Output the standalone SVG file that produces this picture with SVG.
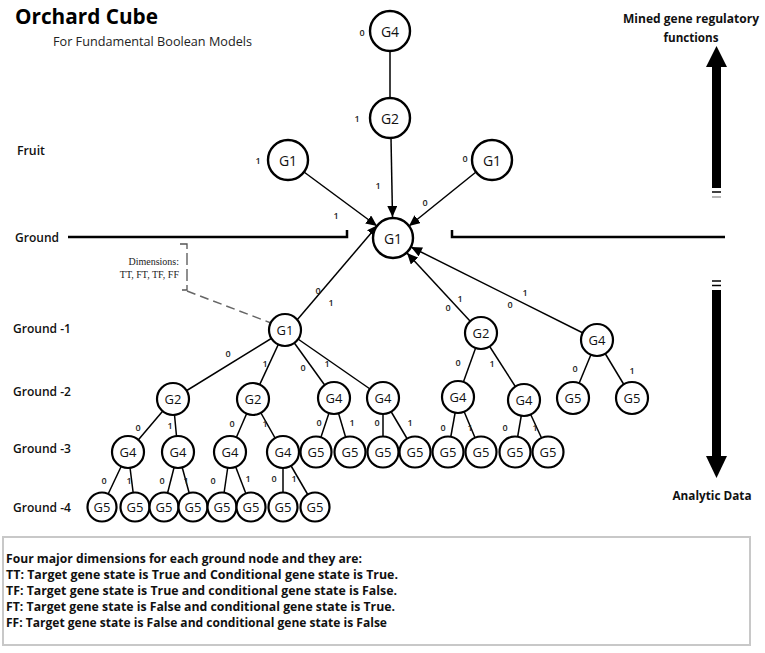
<svg xmlns="http://www.w3.org/2000/svg" width="765" height="653" viewBox="0 0 765 653">
<style>
.node circle{fill:#fff;stroke:#000;stroke-width:2.4}
.node text{font-family:"Open Sans","Liberation Sans",sans-serif;font-size:14px;text-anchor:middle;dominant-baseline:central;fill:#111}
.small circle{stroke-width:2.2}
.small text{font-size:13px}
.edge{stroke:#000;stroke-width:1.5;fill:none}
.lbl{font-family:"Open Sans","Liberation Sans",sans-serif;font-size:9px;font-weight:600;fill:#222;text-anchor:middle;dominant-baseline:central}
.side{font-family:"Open Sans","Liberation Sans",sans-serif;font-size:12px;font-weight:600;fill:#111}
.sideb{font-family:"Open Sans","Liberation Sans",sans-serif;font-size:12px;font-weight:700;fill:#111;text-anchor:middle}
.note{font-family:"Open Sans","Liberation Sans",sans-serif;font-size:11.5px;font-weight:700;fill:#111}
.serif{font-family:"Liberation Serif",serif;font-size:10px;fill:#222;text-anchor:end}
</style>
<defs>
<marker id="ah" markerUnits="userSpaceOnUse" markerWidth="12" markerHeight="10" refX="11" refY="5" orient="auto">
<path d="M0,0 L11,5 L0,10 z" fill="#000"/>
</marker>
</defs>
<rect width="765" height="653" fill="#fff"/>

<!-- titles -->
<text x="15" y="24" font-family="'Open Sans','Liberation Sans',sans-serif" font-size="21" font-weight="700" fill="#000" textLength="143" lengthAdjust="spacingAndGlyphs">Orchard Cube</text>
<text x="53" y="46" font-family="'Open Sans','Liberation Sans',sans-serif" font-size="13" fill="#222" textLength="199" lengthAdjust="spacingAndGlyphs">For Fundamental Boolean Models</text>
<text x="691" y="23" class="sideb" textLength="136" lengthAdjust="spacingAndGlyphs">Mined gene regulatory</text>
<text x="691" y="42" class="sideb" textLength="55" lengthAdjust="spacingAndGlyphs">functions</text>
<text x="712" y="500" class="sideb" textLength="79" lengthAdjust="spacingAndGlyphs">Analytic Data</text>

<!-- level labels -->
<text x="17" y="155" class="side" textLength="28" lengthAdjust="spacingAndGlyphs">Fruit</text>
<text x="15" y="242" class="side" textLength="44" lengthAdjust="spacingAndGlyphs">Ground</text>
<text x="13" y="333" class="side" textLength="58" lengthAdjust="spacingAndGlyphs">Ground -1</text>
<text x="13" y="396" class="side" textLength="58" lengthAdjust="spacingAndGlyphs">Ground -2</text>
<text x="13" y="453" class="side" textLength="58" lengthAdjust="spacingAndGlyphs">Ground -3</text>
<text x="13" y="512" class="side" textLength="58" lengthAdjust="spacingAndGlyphs">Ground -4</text>

<!-- ground lines -->
<path d="M68,237 L347,237 L347,230" fill="none" stroke="#000" stroke-width="2.5"/>
<path d="M452,230 L452,237 L725,237" fill="none" stroke="#000" stroke-width="2.5"/>

<!-- big side arrows -->
<g id="arrow-up">
<rect x="712" y="66" width="9" height="122" fill="#000"/>
<polygon points="706,67 727,67 716.5,46" fill="#000"/>
<line x1="712" y1="192" x2="721" y2="192" stroke="#000" stroke-width="1.5"/>
<line x1="712" y1="197" x2="721" y2="197" stroke="#888" stroke-width="1.2"/>
</g>
<g id="arrow-down">
<line x1="712" y1="281" x2="721" y2="281" stroke="#000" stroke-width="1.5"/>
<line x1="712" y1="285.5" x2="721" y2="285.5" stroke="#000" stroke-width="1.5"/>
<rect x="712" y="290" width="9" height="167" fill="#000"/>
<polygon points="706,456 727,456 716.5,478" fill="#000"/>
</g>

<!-- dimensions callout -->
<g id="dimensions">
<path d="M180,244 L187,244 L187,290 L182,290" fill="none" stroke="#555" stroke-width="1.3" stroke-dasharray="12,4"/>
<line x1="187" y1="291" x2="271" y2="323" stroke="#666" stroke-width="1.5" stroke-dasharray="9,5"/>
<text x="179" y="265" class="serif">Dimensions:</text>
<text x="179" y="278" class="serif">TT, FT, TF, FF</text>
</g>

<!-- connectors -->
<g id="connectors">
<line class="edge" x1="390" y1="51" x2="390" y2="98"/>
<line class="edge" x1="391" y1="138" x2="392.5" y2="217" marker-end="url(#ah)"/>
<line class="edge" x1="304" y1="172" x2="377" y2="226" marker-end="url(#ah)"/>
<line class="edge" x1="476" y1="172" x2="409" y2="226" marker-end="url(#ah)"/>
<line class="edge" x1="297" y1="320" x2="378" y2="225" marker-end="url(#ah)"/>
<line class="edge" x1="470" y1="321" x2="407" y2="253" marker-end="url(#ah)"/>
<line class="edge" x1="583" y1="333" x2="411" y2="247" marker-end="url(#ah)"/>
<!-- Ground-1 to Ground-2 -->
<line class="edge" x1="285" y1="330" x2="173" y2="399"/>
<line class="edge" x1="285" y1="330" x2="253" y2="399"/>
<line class="edge" x1="285" y1="330" x2="334" y2="398"/>
<line class="edge" x1="285" y1="330" x2="383" y2="398"/>
<line class="edge" x1="481" y1="333" x2="458" y2="397"/>
<line class="edge" x1="481" y1="333" x2="524" y2="400"/>
<line class="edge" x1="597" y1="340" x2="573" y2="398"/>
<line class="edge" x1="597" y1="340" x2="632" y2="398"/>
<!-- Ground-2 to Ground-3 -->
<line class="edge" x1="173" y1="399" x2="128" y2="452"/>
<line class="edge" x1="173" y1="399" x2="178" y2="452"/>
<line class="edge" x1="253" y1="399" x2="230" y2="452"/>
<line class="edge" x1="253" y1="399" x2="283" y2="452"/>
<line class="edge" x1="334" y1="398" x2="316" y2="452"/>
<line class="edge" x1="334" y1="398" x2="350" y2="452"/>
<line class="edge" x1="383" y1="398" x2="383" y2="452"/>
<line class="edge" x1="383" y1="398" x2="415" y2="452"/>
<line class="edge" x1="458" y1="397" x2="448" y2="452"/>
<line class="edge" x1="458" y1="397" x2="481" y2="452"/>
<line class="edge" x1="524" y1="400" x2="515" y2="452"/>
<line class="edge" x1="524" y1="400" x2="548" y2="452"/>
<!-- Ground-3 to Ground-4 -->
<line class="edge" x1="128" y1="452" x2="102" y2="507"/>
<line class="edge" x1="128" y1="452" x2="135" y2="507"/>
<line class="edge" x1="178" y1="452" x2="164" y2="507"/>
<line class="edge" x1="178" y1="452" x2="193" y2="507"/>
<line class="edge" x1="230" y1="452" x2="222" y2="507"/>
<line class="edge" x1="230" y1="452" x2="251" y2="507"/>
<line class="edge" x1="283" y1="452" x2="283" y2="507"/>
<line class="edge" x1="283" y1="452" x2="315" y2="507"/>
</g>

<!-- edge labels -->
<g id="edge-labels">
<text class="lbl" x="362" y="32">0</text>
<text class="lbl" x="357" y="118">1</text>
<text class="lbl" x="258" y="160">1</text>
<text class="lbl" x="465" y="158">0</text>
<text class="lbl" x="378" y="185">1</text>
<text class="lbl" x="336" y="215">1</text>
<text class="lbl" x="425" y="202">0</text>
<text class="lbl" x="318" y="290">0</text>
<text class="lbl" x="331" y="302">1</text>
<text class="lbl" x="448" y="307">0</text>
<text class="lbl" x="460" y="298">1</text>
<text class="lbl" x="510" y="304">0</text>
<text class="lbl" x="525" y="292">1</text>
<text class="lbl" x="228" y="353">0</text>
<text class="lbl" x="265" y="363">1</text>
<text class="lbl" x="303" y="367">0</text>
<text class="lbl" x="327" y="363">1</text>
<text class="lbl" x="458" y="362">0</text>
<text class="lbl" x="492" y="363">1</text>
<text class="lbl" x="575" y="368">0</text>
<text class="lbl" x="632" y="370">1</text>
<text class="lbl" x="138" y="427">0</text>
<text class="lbl" x="170" y="425">1</text>
<text class="lbl" x="232" y="423">0</text>
<text class="lbl" x="265" y="423">1</text>
<text class="lbl" x="319" y="422">0</text>
<text class="lbl" x="352" y="422">1</text>
<text class="lbl" x="377" y="422">0</text>
<text class="lbl" x="410" y="422">1</text>
<text class="lbl" x="443" y="427">0</text>
<text class="lbl" x="470" y="427">1</text>
<text class="lbl" x="505" y="427">0</text>
<text class="lbl" x="535" y="427">1</text>
<text class="lbl" x="104" y="480">0</text>
<text class="lbl" x="129" y="480">1</text>
<text class="lbl" x="162" y="480">0</text>
<text class="lbl" x="186" y="480">1</text>
<text class="lbl" x="213" y="480">0</text>
<text class="lbl" x="248" y="478">1</text>
<text class="lbl" x="274" y="478">0</text>
<text class="lbl" x="294" y="478">1</text>
</g>

<!-- nodes: upper -->
<g id="n-top-g4" class="node"><circle cx="390" cy="31" r="20"/><text x="390" y="31">G4</text></g>
<g id="n-top-g2" class="node"><circle cx="390" cy="118" r="20"/><text x="390" y="118">G2</text></g>
<g id="n-fruit-g1-left" class="node"><circle cx="288" cy="160" r="20"/><text x="288" y="160">G1</text></g>
<g id="n-fruit-g1-right" class="node"><circle cx="492" cy="160" r="20"/><text x="492" y="160">G1</text></g>
<g id="n-ground-g1" class="node"><circle cx="393" cy="238" r="20"/><text x="393" y="238">G1</text></g>

<!-- Ground -1 -->
<g id="n-g1-a" class="node small"><circle cx="285" cy="330" r="16"/><text x="285" y="330">G1</text></g>
<g id="n-g1-b" class="node small"><circle cx="481" cy="333" r="16"/><text x="481" y="333">G2</text></g>
<g id="n-g1-c" class="node small"><circle cx="597" cy="340" r="16"/><text x="597" y="340">G4</text></g>

<!-- Ground -2 -->
<g id="n-g2-1" class="node small"><circle cx="173" cy="399" r="16"/><text x="173" y="399">G2</text></g>
<g id="n-g2-2" class="node small"><circle cx="253" cy="399" r="16"/><text x="253" y="399">G2</text></g>
<g id="n-g2-3" class="node small"><circle cx="334" cy="398" r="16"/><text x="334" y="398">G4</text></g>
<g id="n-g2-4" class="node small"><circle cx="383" cy="398" r="16"/><text x="383" y="398">G4</text></g>
<g id="n-g2-5" class="node small"><circle cx="458" cy="397" r="16"/><text x="458" y="397">G4</text></g>
<g id="n-g2-6" class="node small"><circle cx="524" cy="400" r="16"/><text x="524" y="400">G4</text></g>
<g id="n-g2-7" class="node small"><circle cx="573" cy="398" r="16"/><text x="573" y="398">G5</text></g>
<g id="n-g2-8" class="node small"><circle cx="632" cy="398" r="16"/><text x="632" y="398">G5</text></g>

<!-- Ground -3 -->
<g id="n-g3-1" class="node small"><circle cx="128" cy="452" r="16"/><text x="128" y="452">G4</text></g>
<g id="n-g3-2" class="node small"><circle cx="178" cy="452" r="16"/><text x="178" y="452">G4</text></g>
<g id="n-g3-3" class="node small"><circle cx="230" cy="452" r="16"/><text x="230" y="452">G4</text></g>
<g id="n-g3-4" class="node small"><circle cx="283" cy="452" r="16"/><text x="283" y="452">G4</text></g>
<g id="n-g3-5" class="node small"><circle cx="316" cy="452" r="15.5"/><text x="316" y="452">G5</text></g>
<g id="n-g3-6" class="node small"><circle cx="350" cy="452" r="15.5"/><text x="350" y="452">G5</text></g>
<g id="n-g3-7" class="node small"><circle cx="383" cy="452" r="15.5"/><text x="383" y="452">G5</text></g>
<g id="n-g3-8" class="node small"><circle cx="415" cy="452" r="15.5"/><text x="415" y="452">G5</text></g>
<g id="n-g3-9" class="node small"><circle cx="448" cy="452" r="15.5"/><text x="448" y="452">G5</text></g>
<g id="n-g3-10" class="node small"><circle cx="481" cy="452" r="15.5"/><text x="481" y="452">G5</text></g>
<g id="n-g3-11" class="node small"><circle cx="515" cy="452" r="15.5"/><text x="515" y="452">G5</text></g>
<g id="n-g3-12" class="node small"><circle cx="548" cy="452" r="15.5"/><text x="548" y="452">G5</text></g>

<!-- Ground -4 -->
<g id="n-g4-1" class="node small"><circle cx="102" cy="507" r="14.5"/><text x="102" y="507">G5</text></g>
<g id="n-g4-2" class="node small"><circle cx="135" cy="507" r="14.5"/><text x="135" y="507">G5</text></g>
<g id="n-g4-3" class="node small"><circle cx="164" cy="507" r="14.5"/><text x="164" y="507">G5</text></g>
<g id="n-g4-4" class="node small"><circle cx="193" cy="507" r="14.5"/><text x="193" y="507">G5</text></g>
<g id="n-g4-5" class="node small"><circle cx="222" cy="507" r="14.5"/><text x="222" y="507">G5</text></g>
<g id="n-g4-6" class="node small"><circle cx="251" cy="507" r="14.5"/><text x="251" y="507">G5</text></g>
<g id="n-g4-7" class="node small"><circle cx="283" cy="507" r="14.5"/><text x="283" y="507">G5</text></g>
<g id="n-g4-8" class="node small"><circle cx="315" cy="507" r="14.5"/><text x="315" y="507">G5</text></g>

<!-- legend box -->
<g id="legend">
<rect x="3" y="537" width="747" height="108" fill="none" stroke="#c8c8c8" stroke-width="2"/>
<text x="6" y="563" class="note" textLength="356" lengthAdjust="spacingAndGlyphs">Four major dimensions for each ground node and they are:</text>
<text x="6" y="579" class="note" textLength="392" lengthAdjust="spacingAndGlyphs">TT: Target gene state is True and Conditional gene state is True.</text>
<text x="6" y="595" class="note" textLength="391" lengthAdjust="spacingAndGlyphs">TF: Target gene state is True and conditional gene state is False.</text>
<text x="6" y="611" class="note" textLength="389" lengthAdjust="spacingAndGlyphs">FT: Target gene state is False and conditional gene state is True.</text>
<text x="6" y="627" class="note" textLength="381" lengthAdjust="spacingAndGlyphs">FF: Target gene state is False and conditional gene state is False</text>
</g>
</svg>
